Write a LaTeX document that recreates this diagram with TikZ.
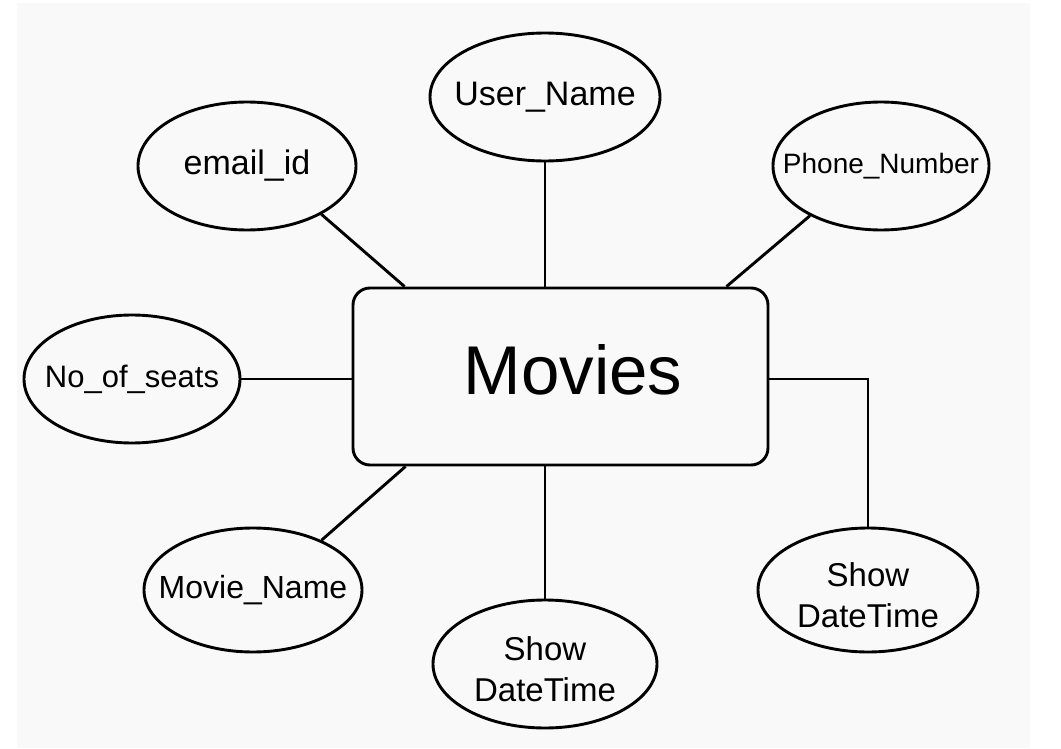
\documentclass[tikz,border=0pt]{standalone}
\usepackage{fontspec}
\setmainfont{Liberation Sans}
\usetikzlibrary{shapes.geometric,calc}
\definecolor{bgpaper}{RGB}{249,249,249}
\newcommand{\zw}[1]{\makebox[0pt]{#1}}
\tikzset{
  attr/.style={draw=black, ellipse, line width=2.9pt, inner sep=0pt, fill=bgpaper},
  entitybox/.style={draw=black, rectangle, rounded corners=17pt, line width=2.9pt, inner sep=0pt, fill=bgpaper},
  link/.style={draw=black, line width=2.9pt},
  fs/.style={font=\fontsize{#1}{41}\selectfont},
  twoline/.style={align=center, inner sep=0pt}
}
\begin{document}
\begin{tikzpicture}[x=1pt,y=-1pt]
\useasboundingbox (0,0) rectangle (1061,749);
\fill[white] (0,0) rectangle (1061,749);
\fill[bgpaper] (17,3) rectangle (1030,748);

\node[entitybox, minimum width=415pt, minimum height=177pt] (box) at (560.5,376.5) {};
\node[fs=69, inner sep=0pt] (title) at (573,370) {Movies};

\node[attr, fs=34, minimum width=218pt, minimum height=128pt] (email) at (247,166) {\zw{email\_id}};
\node[attr, fs=34, minimum width=230pt, minimum height=128pt] (user) at (545,97) {\zw{User\_Name}};
\node[attr, fs=28, minimum width=216pt, minimum height=128pt] (phone) at (881,166) {\zw{Phone\_Number}};
\node[attr, fs=31, minimum width=216pt, minimum height=128pt] (seats) at (132,379) {\zw{No\_of\_seats}};
\node[attr, fs=32, minimum width=218pt, minimum height=124pt] (mname) at (253,590) {\zw{Movie\_Name}};
\node[attr, minimum width=224pt, minimum height=128pt] (dta) at (545,664) {};
\node[fs=33, twoline] (dtatext) at ([yshift=-5pt]dta.center) {Show\\DateTime};
\node[attr, minimum width=220pt, minimum height=124pt] (dtb) at (868,590) {};
\node[fs=33, twoline] (dtbtext) at ([yshift=-5pt]dtb.center) {Show\\DateTime};

\draw[link] (email.-33) -- ($(box.north west)+(53,0)$);
\draw[link] (user.south) -- (user.south |- box.north);
\draw[link] (phone.-145) -- ($(box.north east)+(-43,0)$);
\draw[link] (seats.east) -- (seats.east -| box.west);
\draw[link] (mname.36) -- ($(box.south west)+(54,0)$);
\draw[link] (dta.north) -- (dta.north |- box.south);
\draw[link] (box.east |- 0,379) -| (dtb.north);
\end{tikzpicture}
\end{document}
